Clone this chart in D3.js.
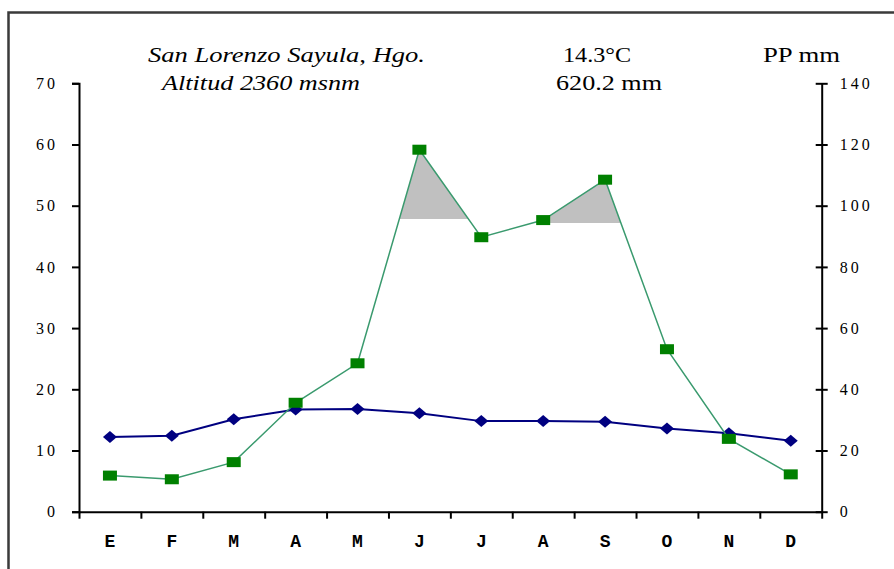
<!DOCTYPE html>
<html lang="en">
<head>
<meta charset="utf-8">
<title>San Lorenzo Sayula - climograma</title>
<script src="https://cdn.jsdelivr.net/npm/d3@7"></script>
<style>
  body { margin: 0; background: #fff; }
  svg { display: block; }
  .tick text { font-family: "Liberation Serif", serif; font-size: 16px; fill: #000; letter-spacing: 3px; }
  .xlab .tick text { font-family: "Liberation Mono", monospace; font-weight: bold; font-size: 18px; letter-spacing: 0; }
  .domain, .tick line { stroke: #000; stroke-width: 2px; }
</style>
</head>
<body>
<script>
// data
var months = ["E", "F", "M", "A", "M", "J", "J", "A", "S", "O", "N", "D"];
var temp = [12.2, 12.4, 15.1, 16.7, 16.8, 16.1, 14.8, 14.8, 14.7, 13.6, 12.8, 11.6];   // °C, left axis
var precip = [11.8, 10.6, 16.2, 35.6, 48.5, 118.3, 89.7, 95.3, 108.5, 53.1, 23.8, 12.2]; // mm, right axis
var leftTicks = [0, 10, 20, 30, 40, 50, 60, 70];
var rightTicks = [0, 20, 40, 60, 80, 100, 120, 140];
// grey humid zones: month index range and base level in mm
var shades = [
  { from: 4, to: 6, level: 95.6 },
  { from: 6, to: 9, level: 94.3 }
];

var w = 894, h = 569;
var mLeft = 79, mRight = 821.7, mTop = 83.3, mBottom = 511.7;

var svg = d3.select("body").append("svg").attr("width", w).attr("height", h);

// outer frame
svg.append("rect")
  .attr("x", 8.5).attr("y", 12.5)
  .attr("width", 900).attr("height", 600)
  .attr("fill", "none").attr("stroke", "#3a3a3a").attr("stroke-width", 2.5);

var x = d3.scaleBand().domain(d3.range(12)).range([mLeft, mRight]).padding(0);
var cx = function(i) { return x(i) + x.bandwidth() / 2; };
var yL = d3.scaleLinear().domain([0, 70]).range([mBottom, mTop]);
var yR = d3.scaleLinear().domain([0, 140]).range([mBottom, mTop]);

// shaded zones (area between level and precip line, clipped above the level)
shades.forEach(function(s, k) {
  var pts = d3.range(s.from, s.to + 1);
  var yb = Math.round(yR(s.level));
  svg.append("clipPath").attr("id", "clip" + k)
    .append("rect")
    .attr("x", cx(s.from)).attr("y", 0)
    .attr("width", cx(s.to) - cx(s.from))
    .attr("height", yb);
  svg.append("path")
    .datum(pts)
    .attr("clip-path", "url(#clip" + k + ")")
    .attr("fill", "#c0c0c0")
    .attr("d", d3.area()
      .x(function(i) { return cx(i); })
      .y0(yb)
      .y1(function(i) { return yR(precip[i]); }));
});

// axes
svg.append("g").attr("transform", "translate(" + mLeft + ",0)")
  .call(d3.axisLeft(yL).tickValues(leftTicks).tickSize(7).tickPadding(14));

var gR = svg.append("g").attr("transform", "translate(" + mRight + ",0)")
  .call(d3.axisRight(yR).tickValues(rightTicks).tickSize(6).tickSizeOuter(0).tickPadding(12));
gR.selectAll(".tick line").attr("x1", -6).attr("x2", 6);

var xEdge = d3.scaleLinear().domain([0, 12]).range([mLeft, mRight]);
svg.append("g").attr("transform", "translate(0," + mBottom + ")")
  .call(d3.axisBottom(xEdge).ticks(12).tickSize(7).tickSizeOuter(0).tickFormat(""));

svg.append("g").attr("class", "xlab").attr("transform", "translate(0," + mBottom + ")")
  .call(d3.axisBottom(x).tickSize(0).tickPadding(23).tickFormat(function(i) { return months[i]; }))
  .select(".domain").remove();

// temperature line (navy diamonds)
svg.append("path")
  .datum(temp)
  .attr("fill", "none").attr("stroke", "#000080").attr("stroke-width", 2)
  .attr("d", d3.line().x(function(d, i) { return cx(i); }).y(function(d) { return yL(d); }));

svg.selectAll(".dia").data(temp).enter().append("path")
  .attr("class", "dia")
  .attr("fill", "#000080")
  .attr("transform", function(d, i) { return "translate(" + cx(i) + "," + yL(d) + ")"; })
  .attr("d", "M-7,0L0,-6L7,0L0,6Z");

// precipitation line (green squares)
svg.append("path")
  .datum(precip)
  .attr("fill", "none").attr("stroke", "#3a9a6e").attr("stroke-width", 1.5)
  .attr("d", d3.line().x(function(d, i) { return cx(i); }).y(function(d) { return yR(d); }));

svg.selectAll(".sq").data(precip).enter().append("rect")
  .attr("class", "sq")
  .attr("fill", "#008000")
  .attr("x", function(d, i) { return cx(i) - 7; })
  .attr("y", function(d) { return yR(d) - 5; })
  .attr("width", 14).attr("height", 10);

// header texts
var head = [
  { t: "San Lorenzo Sayula, Hgo.", x: 148, y: 61.5, len: 277, it: true },
  { t: "Altitud 2360 msnm", x: 162, y: 90, len: 198, it: true },
  { t: "14.3°C", x: 563, y: 61.5, len: 68, it: false },
  { t: "620.2 mm", x: 556, y: 90, len: 106, it: false },
  { t: "PP mm", x: 763, y: 61.5, len: 77, it: false }
];
svg.selectAll(".head").data(head).enter().append("text")
  .attr("class", "head")
  .attr("x", function(d) { return d.x; })
  .attr("y", function(d) { return d.y; })
  .attr("textLength", function(d) { return d.len; })
  .attr("lengthAdjust", "spacingAndGlyphs")
  .attr("font-family", "Liberation Serif, serif")
  .attr("font-size", 21)
  .attr("font-style", function(d) { return d.it ? "italic" : "normal"; })
  .text(function(d) { return d.t; });
</script>
</body>
</html>
